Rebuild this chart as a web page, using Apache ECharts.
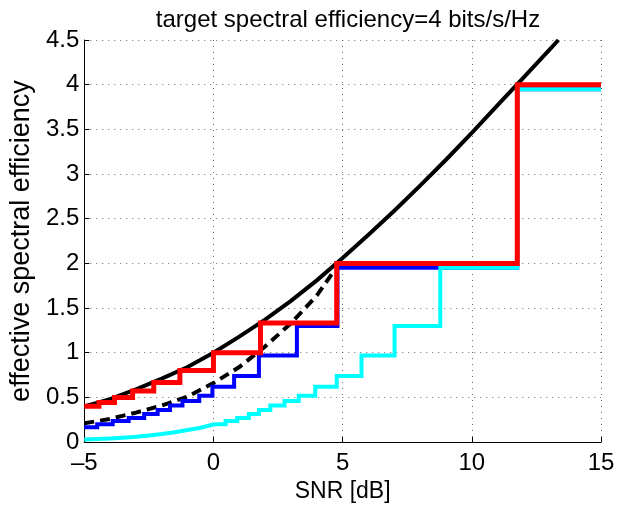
<!DOCTYPE html>
<html>
<head>
<meta charset="UTF-8">
<title>effective spectral efficiency</title>
<script src="https://cdn.jsdelivr.net/npm/echarts@6/dist/echarts.min.js"></script>
<style>
	body { margin: 0; background: #fff; }
	#chart { width: 634px; height: 508px; }
</style>
</head>
<body>
<div id="chart"></div>
<script type="text/javascript">

	// black solid curve
	var shannonX = [-5, -4, -3, -2, -1, 0, 1, 2, 3, 4, 5, 6, 7, 8, 9, 10, 11, 12, 13, 13.35];
	var shannonY = [0.40, 0.48, 0.59, 0.71, 0.84, 1.00, 1.18, 1.37, 1.58, 1.81, 2.06, 2.32, 2.59, 2.87, 3.16, 3.46, 3.77, 4.08, 4.39, 4.50];

	// black dashed curve
	var dashedX = [-5, -4, -3, -2, -1, 0, 1, 2, 3, 4, 4.7];
	var dashedY = [0.21, 0.26, 0.33, 0.41, 0.51, 0.66, 0.84, 1.07, 1.33, 1.64, 1.93];

	// red staircase
	var redEdges = [-5, -4.43, -3.83, -3.13, -2.31, -1.30, 0, 1.82, 4.77, 11.76, 15];
	var redLevels = [0.40, 0.444, 0.50, 0.571, 0.667, 0.80, 1.00, 1.333, 2.00, 4.00];

	// blue staircase
	var blueEdges = [-5, -4.5, -3.9, -3.28, -2.68, -2.16, -1.68, -1.2, -0.55, -0.04, 0.80, 1.76, 3.23, 4.8, 11.76, 15];
	var blueLevels = [0.167, 0.20, 0.235, 0.27, 0.315, 0.36, 0.41, 0.46, 0.52, 0.62, 0.74, 0.97, 1.30, 1.95, 3.95];

	// cyan: fine part at low SNR, then staircase
	var cyanCurveX = [-5, -4.5, -4, -3.5, -3, -2.5, -2, -1.5, -1, -0.5, 0.03];
	var cyanCurveY = [0.028, 0.034, 0.041, 0.05, 0.06, 0.075, 0.09, 0.11, 0.135, 0.16, 0.20];
	var cyanEdges = [0.03, 0.47, 0.92, 1.37, 1.76, 2.2, 2.75, 3.3, 3.94, 4.77, 5.73, 7.01, 8.78, 11.76, 15];
	var cyanLevels = [0.20, 0.235, 0.27, 0.315, 0.36, 0.41, 0.46, 0.52, 0.62, 0.74, 0.97, 1.30, 1.95, 3.95];

	var xTicks = [-5, 0, 5, 10, 15];

	function pairs(xs, ys) {
		var out = [];
		for (var i = 0; i < xs.length; i++) out.push([xs[i], ys[i]]);
		return out;
	}

	function stairs(edges, levels) {
		var out = [];
		for (var i = 0; i < levels.length; i++) {
			out.push([edges[i], levels[i]]);
			out.push([edges[i + 1], levels[i]]);
		}
		return out;
	}

	var font = 'Liberation Sans, Arial, Helvetica, sans-serif';

	function line(data, color, width, type) {
		return {
			type: 'line',
			data: data,
			showSymbol: false,
			symbol: 'none',
			silent: true,
			lineStyle: { color: color, width: width, type: type || 'solid', join: 'miter', cap: 'butt' }
		};
	}

	var chart = echarts.init(document.getElementById('chart'));

	var option = {
		animation: false,
		backgroundColor: '#fff',
		title: {
			text: 'target spectral efficiency=4 bits/s/Hz',
			left: 343,
			textAlign: 'center',
			top: 3,
			textStyle: { fontFamily: font, fontSize: 24, fontWeight: 'normal', color: '#000' }
		},
		grid: { left: 81, right: 33, top: 40, bottom: 65 },
		xAxis: {
			type: 'value',
			min: -5, max: 15, interval: 5,
			name: 'SNR [dB]',
			nameLocation: 'middle',
			nameGap: 37,
			nameTextStyle: { fontFamily: font, fontSize: 23, color: '#000' },
			axisLine: { show: true, onZero: false, lineStyle: { color: '#000', width: 1 } },
			axisTick: { show: true, inside: true, length: 5, lineStyle: { color: '#000' } },
			axisLabel: {
				fontFamily: font, fontSize: 24, color: '#000', margin: 9,
				formatter: function (v) { return xTicks.indexOf(v) >= 0 ? String(v).replace('-', '\u2013') : ''; }
			},
			splitLine: { show: true, lineStyle: { color: '#666', width: 1, type: [1, 5] } }
		},
		yAxis: {
			type: 'value',
			min: 0, max: 4.5, interval: 0.5,
			name: 'effective spectral efficiency',
			nameLocation: 'middle',
			nameGap: 46,
			nameTextStyle: { fontFamily: font, fontSize: 27, color: '#000' },
			axisLine: { show: true, onZero: false, lineStyle: { color: '#000', width: 1 } },
			axisTick: { show: true, inside: true, length: 5, lineStyle: { color: '#000' } },
			axisLabel: { fontFamily: font, fontSize: 24, color: '#000', margin: 5 },
			splitLine: { show: true, lineStyle: { color: '#666', width: 1, type: [1, 5] } }
		},
		series: [
			line(pairs(shannonX, shannonY), '#000000', 4),
			line(pairs(dashedX, dashedY), '#000000', 4, [10, 6]),
			line(stairs(blueEdges, blueLevels), '#0000ff', 4),
			line(pairs(cyanCurveX, cyanCurveY).concat(stairs(cyanEdges, cyanLevels)), '#00ffff', 4),
			line(stairs(redEdges, redLevels), '#ff0000', 5)
		]
	};

	chart.setOption(option);
</script>
</body>
</html>
